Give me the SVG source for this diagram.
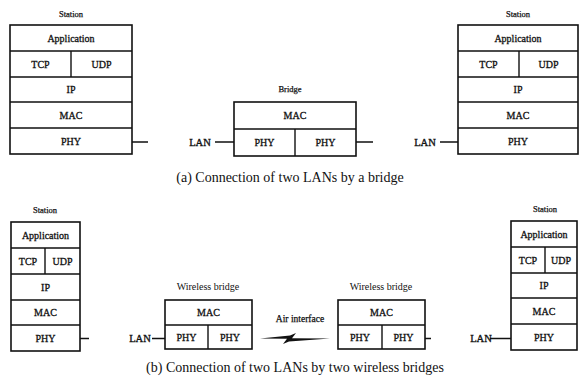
<svg xmlns="http://www.w3.org/2000/svg" width="580" height="383" viewBox="0 0 580 383">
<style>
.box{fill:#fff;stroke:#111;stroke-width:1.6}
.ln{stroke:#111;stroke-width:1.4;fill:none}
text{font-family:"Liberation Serif","Times New Roman",serif;fill:#111;text-anchor:middle}
.t{font-size:10px;stroke:#111;stroke-width:0.3}
.s{font-size:8.5px;stroke:#111;stroke-width:0.25}
.w{font-size:10px}
.lan{font-size:10.5px;stroke:#111;stroke-width:0.35}
.cap{font-size:14px}
</style>
<rect width="580" height="383" fill="#fff"/>

<g id="station-a-left">
<text class="s" x="71" y="17">Station</text>
<rect class="box" x="10" y="25" width="122" height="129"/>
<path class="ln" d="M10,51H132M10,77H132M10,102H132M10,128H132M71,51V77"/>
<text class="t" x="71" y="41.5">Application</text>
<text class="t" x="40.5" y="67.5">TCP</text>
<text class="t" x="101.5" y="67.5">UDP</text>
<text class="t" x="71" y="93">IP</text>
<text class="t" x="71" y="118.5">MAC</text>
<text class="t" x="71" y="144.5">PHY</text>
</g>

<g id="lan-a-left"><text class="lan" x="200" y="145.5">LAN</text></g>

<g id="bridge-a">
<text class="s" x="290" y="92">Bridge</text>
<rect class="box" x="234" y="102" width="122" height="54"/>
<path class="ln" d="M234,129H356M295,129V156"/>
<text class="t" x="295" y="118.5">MAC</text>
<text class="t" x="264.5" y="145.5">PHY</text>
<text class="t" x="325.5" y="145.5">PHY</text>
</g>

<g id="lan-a-right"><text class="lan" x="425" y="145.5">LAN</text></g>

<g id="station-a-right">
<text class="s" x="518" y="17">Station</text>
<rect class="box" x="458" y="25" width="120" height="129"/>
<path class="ln" d="M458,51H578M458,77H578M458,102H578M458,128H578M519,51V77"/>
<text class="t" x="518" y="41.5">Application</text>
<text class="t" x="488.5" y="67.5">TCP</text>
<text class="t" x="548.5" y="67.5">UDP</text>
<text class="t" x="518" y="93">IP</text>
<text class="t" x="518" y="118.5">MAC</text>
<text class="t" x="518" y="144.5">PHY</text>
</g>

<text class="cap" x="290" y="182">(a) Connection of two LANs by a bridge</text>

<g id="station-b-left">
<text class="s" x="45" y="213">Station</text>
<rect class="box" x="11" y="222" width="69" height="129"/>
<path class="ln" d="M11,248H80M11,274H80M11,300H80M11,325H80M45,248V274"/>
<text class="t" x="45.5" y="238.5">Application</text>
<text class="t" x="28" y="264.5">TCP</text>
<text class="t" x="62.5" y="264.5">UDP</text>
<text class="t" x="45.5" y="290.5">IP</text>
<text class="t" x="45.5" y="316">MAC</text>
<text class="t" x="45.5" y="341.5">PHY</text>
</g>

<g id="lan-b-left"><text class="lan" x="140" y="341.5">LAN</text></g>

<g id="wbridge-1">
<text class="w" x="208" y="290">Wireless bridge</text>
<rect class="box" x="165" y="300" width="87" height="49"/>
<path class="ln" d="M165,325H252M208,325V349"/>
<text class="t" x="208.5" y="316">MAC</text>
<text class="t" x="186.5" y="341">PHY</text>
<text class="t" x="230" y="341">PHY</text>
</g>

<g id="air-interface">
<text class="s" x="300" y="322" style="font-size:9.5px">Air interface</text>
</g>

<g id="wbridge-2">
<text class="w" x="381" y="290">Wireless bridge</text>
<rect class="box" x="338" y="300" width="87" height="49"/>
<path class="ln" d="M338,325H425M382,325V349"/>
<text class="t" x="381.5" y="316">MAC</text>
<text class="t" x="360" y="341">PHY</text>
<text class="t" x="403.5" y="341">PHY</text>
</g>

<g id="lan-b-right"><text class="lan" x="481" y="341.5">LAN</text></g>

<g id="station-b-right">
<text class="s" x="545" y="212">Station</text>
<rect class="box" x="511" y="221" width="66" height="129"/>
<path class="ln" d="M511,247H577M511,273H577M511,298H577M511,324H577M545,247V273"/>
<text class="t" x="544" y="237.5">Application</text>
<text class="t" x="528" y="263.5">TCP</text>
<text class="t" x="561" y="263.5">UDP</text>
<text class="t" x="544" y="289">IP</text>
<text class="t" x="544" y="314.5">MAC</text>
<text class="t" x="544" y="340.5">PHY</text>
</g>

<text class="cap" x="295" y="372">(b) Connection of two LANs by two wireless bridges</text>

<g id="connectors">
<path class="ln" d="M132,142H148M215,142H234M356,142H373M440,142H458"/>
<path class="ln" d="M80,338.5H89M152,338.5H165M425,338.5H431M490,338.5H511"/>
<polygon fill="#111" points="260,338.6 290,335.5 296,333 292,338.2 330,338.4 289,341.4 283,344 287,338.8"/>
</g>
</svg>
